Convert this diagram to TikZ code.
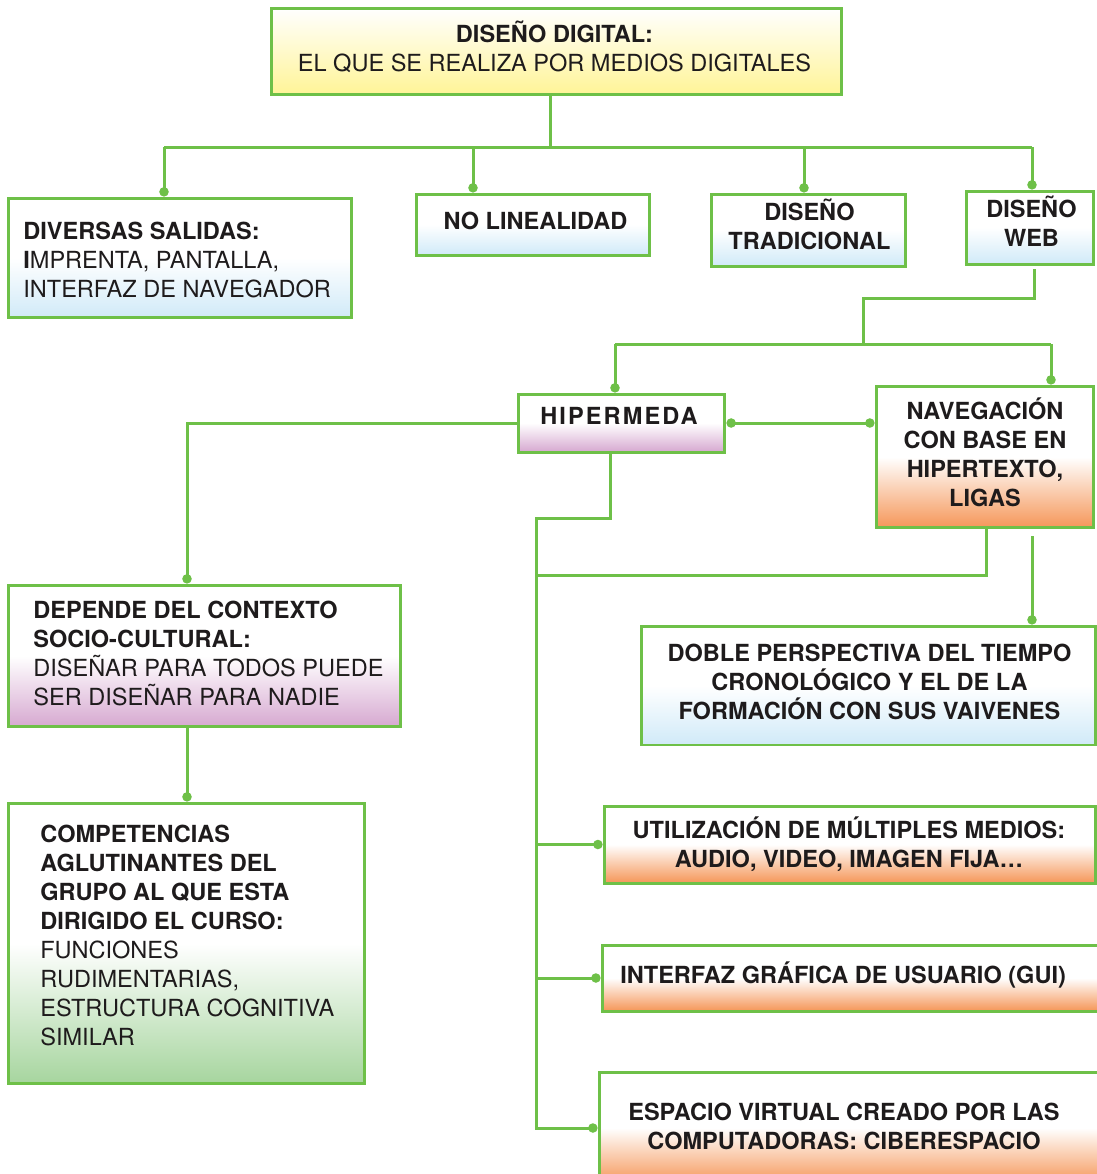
\documentclass[tikz,border=0pt]{standalone}
\usepackage{fontspec}
\setmainfont{TeX Gyre Heros}
\usetikzlibrary{arrows.meta}

\definecolor{linegreen}{RGB}{110,192,72}
\definecolor{ink}{RGB}{30,27,28}
\definecolor{fillyellow}{RGB}{255,244,150}
\definecolor{fillblue}{RGB}{208,234,248}
\definecolor{fillpurple}{RGB}{214,168,208}
\definecolor{fillorange}{RGB}{245,150,88}
\definecolor{fillgreen}{RGB}{166,213,158}

\newcommand\cardfont{\fontsize{13.4}{16.5}\selectfont}

\tikzset{
  card/.style={draw=linegreen, line width=0.06cm, inner sep=0pt},
  fade/.style={top color=white, bottom color=#1, middle color=white},
  cardtext/.style={text=ink, font=\cardfont, inner sep=0pt, align=center},
  boldtext/.style={cardtext, font=\cardfont\bfseries},
  lefttext/.style={cardtext, align=left, anchor=west},
  link/.style={draw=linegreen, line width=0.06cm},
  tolink/.style={link, -{Circle[length=5.3pt,width=5.3pt]}},
  bothlink/.style={link, {Circle[length=5.3pt,width=5.3pt]}-{Circle[length=5.3pt,width=5.3pt]}}
}

\begin{document}
\begin{tikzpicture}[x=0.02cm, y=-0.02cm]
\useasboundingbox (0,0) rectangle (1097,1174);
\clip (0,0) rectangle (1097,1174);

% ---------- boxes ----------
\node[card, top color=white, bottom color=fillyellow,
      minimum width=11.42cm, minimum height=1.74cm] (dd) at (556.5,51.5) {};
\node[cardtext] (dd-text) at (554.5,46.5)
  {\textbf{DISEÑO DIGITAL:}\\EL QUE SE REALIZA POR MEDIOS DIGITALES};

\node[card, fade=fillblue, minimum width=6.88cm, minimum height=2.4cm] (ds) at (180,258) {};
\node[lefttext] (ds-text) at (23,260)
  {\textbf{DIVERSAS SALIDAS:}\\\textbf{I}MPRENTA, PANTALLA,\\INTERFAZ DE NAVEGADOR};

\node[card, fade=fillblue, minimum width=4.68cm, minimum height=1.22cm] (nl) at (533,224.5) {};
\node[boldtext] (nl-text) at (535.5,221) {NO LINEALIDAD};

\node[card, fade=fillblue, minimum width=3.9cm, minimum height=1.44cm] (dt) at (808.5,230) {};
\node[boldtext] (dt-text) at (809.5,224.5) {DISEÑO\\TRADICIONAL};

\node[card, fade=fillblue, minimum width=2.56cm, minimum height=1.46cm] (dw) at (1030,227.5) {};
\node[boldtext] (dw-text) at (1031.5,221.5) {DISEÑO\\WEB};

\node[card, fade=fillpurple, minimum width=4.14cm, minimum height=1.16cm] (hm) at (621.5,423) {};
\node[boldtext] (hm-text) at (619,416) {\addfontfeatures{LetterSpace=9}HIPERMEDA};

\node[card, fade=fillorange, minimum width=4.36cm, minimum height=2.84cm] (nv) at (985,457) {};
\node[boldtext] (nv-text) at (985,452.5) {NAVEGACIÓN\\CON BASE EN\\HIPERTEXTO,\\LIGAS};

\node[card, fade=fillpurple, minimum width=7.86cm, minimum height=2.84cm] (dp) at (204.5,656) {};
\node[lefttext] (dp-text) at (33,653.5)
  {\textbf{DEPENDE DEL CONTEXTO}\\\textbf{SOCIO-CULTURAL:}\\DISEÑAR PARA TODOS PUEDE\\SER DISEÑAR PARA NADIE};

\node[card, fade=fillgreen, minimum width=7.14cm, minimum height=5.62cm] (cp) at (186.5,943.5) {};
\node[lefttext] (cp-text) at (40,935.5)
  {\textbf{COMPETENCIAS}\\\textbf{AGLUTINANTES DEL}\\\textbf{GRUPO AL QUE ESTA}\\\textbf{DIRIGIDO EL CURSO:}\\FUNCIONES\\RUDIMENTARIAS,\\ESTRUCTURA COGNITIVA\\SIMILAR};

\node[card, fade=fillblue, minimum width=9.1cm, minimum height=2.38cm] (db) at (868.5,685.5) {};
\node[boldtext] (db-text) at (869.5,681.5)
  {DOBLE PERSPECTIVA DEL TIEMPO\\CRONOLÓGICO Y EL DE LA\\FORMACIÓN CON SUS VAIVENES};

\node[card, fade=fillorange, minimum width=9.84cm, minimum height=1.54cm] (ut) at (850,844.5) {};
\node[boldtext] (ut-text) at (849,844.5) {UTILIZACIÓN DE MÚLTIPLES MEDIOS:\\AUDIO, VIDEO, IMAGEN FIJA…};

\node[card, fade=fillorange, minimum width=10.2cm, minimum height=1.32cm] (gu) at (857,978) {};
\node[boldtext, anchor=west] (gu-text) at (620,975) {INTERFAZ GRÁFICA DE USUARIO (GUI)};

\node[card, fade=fillorange, minimum width=10.26cm, minimum height=2.24cm] (es) at (855.5,1128) {};
\node[boldtext] (es-text) at (844,1126) {ESPACIO VIRTUAL CREADO POR LAS\\COMPUTADORAS: CIBERESPACIO};

% ---------- first level ----------
\coordinate (b-top) at (550,147);
\coordinate (b-ds)  at (164,147);
\coordinate (b-nl)  at (473,147);
\coordinate (b-dt)  at (804,147);
\coordinate (b-dw)  at (1032,147);
\draw[link] (b-top |- dd.south) -- (b-top);
\draw[link] (b-ds) -- (b-dw);
\foreach \n/\b in {ds/b-ds, nl/b-nl, dt/b-dt, dw/b-dw}
  \draw[tolink] (\b) -- (\b |- \n.north);

% ---------- web design branch ----------
\coordinate (w-a)  at (1034,298);
\coordinate (w-b)  at (863,344);
\coordinate (b-hm) at (615,344);
\coordinate (b-nv) at (1051,344);
\draw[link, shorten <=2pt] (w-a |- dw.south) -- (w-a) -| (w-b);
\draw[link] (b-hm) -- (b-nv);
\draw[tolink] (b-hm) -- (b-hm |- hm.north);
\draw[tolink] (b-nv) -- (b-nv |- nv.north);
\draw[bothlink] (hm.east) -- (hm.east -| nv.west);

% ---------- left column ----------
\coordinate (x-dp) at (187,0);
\draw[tolink] (hm.west) -| (x-dp |- dp.north);
\draw[tolink] (x-dp |- dp.south) -- (x-dp |- cp.north);

% ---------- spine on the right ----------
\coordinate (s-hm)  at (610,518);
\coordinate (s-top) at (536,518);
\coordinate (s-nv)  at (986,575);
\coordinate (s-mid) at (536,575);
\coordinate (s-bot) at (536,1128);
\draw[tolink] (s-hm |- hm.south) -- (s-hm) -- (s-top) -- (s-bot) -- (s-bot -| es.west);
\draw[link] (s-nv |- nv.south) -- (s-nv) -- (s-mid);
\coordinate (x-db) at (1032,0);
\draw[tolink, shorten <=0.14cm] (x-db |- nv.south) -- (x-db |- db.north);
\draw[tolink] (ut.west -| s-top) -- (ut.west);
\draw[tolink] (gu.west -| s-top) -- (gu.west);
\end{tikzpicture}
\end{document}
